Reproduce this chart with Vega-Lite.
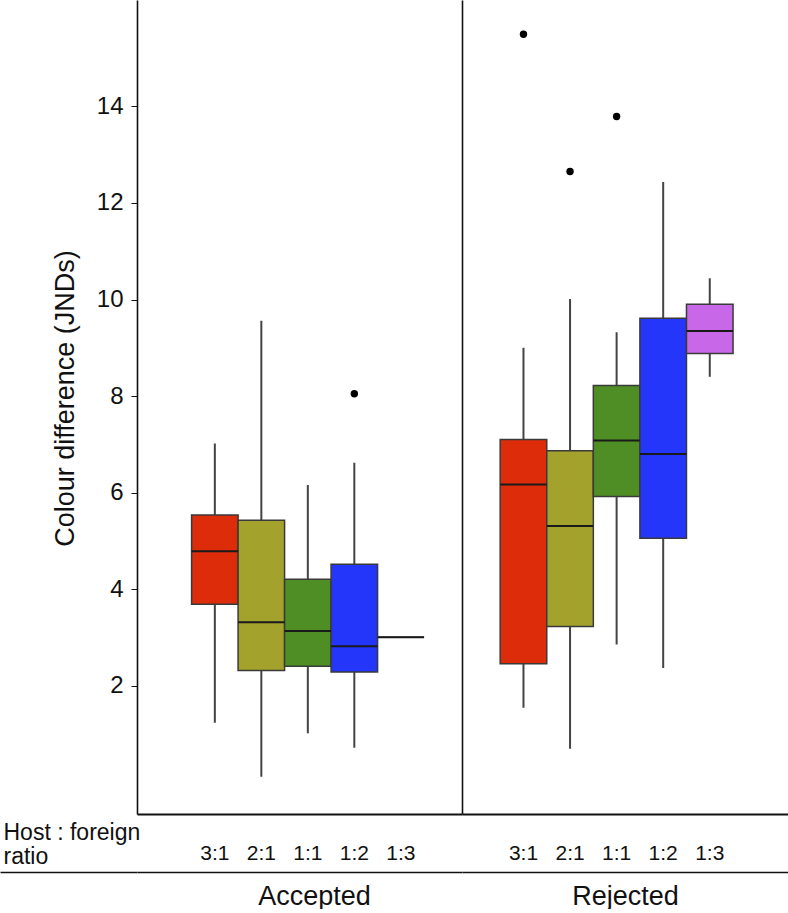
{
  "$schema": "https://vega.github.io/schema/vega-lite/v6.json",
  "autosize": {"type": "pad"},
  "padding": {"left": 0, "top": 0, "right": 0, "bottom": 0},
  "bounds": "flush",
  "spacing": 0,
  "background": "white",
  "config": {
    "view": {"stroke": null},
    "font": "Liberation Sans",
    "axis": {
      "grid": false,
      "domainColor": "#111",
      "domainWidth": 1.6,
      "tickColor": "#111",
      "labelColor": "#111",
      "titleColor": "#111",
      "labelFont": "Liberation Sans",
      "titleFont": "Liberation Sans",
      "titleFontWeight": "normal"
    }
  },
  "datasets": {
    "boxes": [
      {"decision": "Accepted", "ratio": "3:1", "lo": 1.24, "q1": 3.69, "med": 4.79, "q3": 5.54, "hi": 7.02},
      {"decision": "Accepted", "ratio": "2:1", "lo": 0.12, "q1": 2.32, "med": 3.32, "q3": 5.43, "hi": 9.56},
      {"decision": "Accepted", "ratio": "1:1", "lo": 1.02, "q1": 2.41, "med": 3.14, "q3": 4.21, "hi": 6.16},
      {"decision": "Accepted", "ratio": "1:2", "lo": 0.72, "q1": 2.29, "med": 2.82, "q3": 4.52, "hi": 6.62},
      {"decision": "Accepted", "ratio": "1:3", "lo": 3.01, "q1": 3.01, "med": 3.01, "q3": 3.01, "hi": 3.01},
      {"decision": "Rejected", "ratio": "3:1", "lo": 1.55, "q1": 2.46, "med": 6.17, "q3": 7.10, "hi": 9.00},
      {"decision": "Rejected", "ratio": "2:1", "lo": 0.70, "q1": 3.23, "med": 5.31, "q3": 6.87, "hi": 10.01},
      {"decision": "Rejected", "ratio": "1:1", "lo": 2.86, "q1": 5.92, "med": 7.08, "q3": 8.22, "hi": 9.32},
      {"decision": "Rejected", "ratio": "1:2", "lo": 2.37, "q1": 5.06, "med": 6.80, "q3": 9.61, "hi": 12.43},
      {"decision": "Rejected", "ratio": "1:3", "lo": 8.40, "q1": 8.88, "med": 9.35, "q3": 9.90, "hi": 10.44}
    ],
    "outliers": [
      {"decision": "Accepted", "ratio": "1:2", "value": 8.05},
      {"decision": "Rejected", "ratio": "3:1", "value": 15.49},
      {"decision": "Rejected", "ratio": "2:1", "value": 12.65},
      {"decision": "Rejected", "ratio": "1:1", "value": 13.79}
    ]
  },
  "hconcat": [
    {
      "width": 137,
      "height": 814,
      "data": {"name": "boxes"},
      "transform": [{"filter": "false"}],
      "mark": {"type": "tick"},
      "encoding": {
        "x": {
          "field": "ratio", "type": "nominal",
          "scale": {"domain": ["3:1"]},
          "axis": {"orient": "bottom", "offset": 58, "domain": true, "domainWidth": 1.6, "labels": false, "ticks": false, "title": null}
        }
      }
    },
    {
      "width": 325,
      "height": 814,
      "resolve": {"axis": {"x": "independent"}},
      "layer": [
        {
          "data": {"name": "boxes"},
          "transform": [{"filter": "datum.decision === 'Accepted'"}],
          "mark": {"type": "rule", "color": "#444", "strokeWidth": 2},
          "encoding": {
            "x": {
              "field": "ratio", "type": "nominal",
              "scale": {"domain": ["3:1", "2:1", "1:1", "1:2", "1:3"], "paddingInner": 0, "paddingOuter": 0.995, "align": 0.59},
              "axis": {
                "orient": "bottom", "ticks": false, "tickSize": 0, "labelPadding": 28, "labelFontSize": 21, "labelAngle": 0, "domainWidth": 2,
                "title": ["Host : foreign", "ratio"], "titleX": -134, "titleY": 7, "titleAlign": "left", "titleAnchor": "start",
                "titleBaseline": "top", "titleFontSize": 23, "titleLineHeight": 24
              }
            },
            "y": {
              "field": "lo", "type": "quantitative",
              "scale": {"domain": [-0.65, 16.2], "nice": false, "zero": false},
              "axis": {
                "values": [2, 4, 6, 8, 10, 12, 14], "tickSize": 6, "labelPadding": 8, "labelFontSize": 24,
                "title": "Colour difference (JNDs)", "titleFontSize": 27, "titlePadding": 17, "titleY": 398
              }
            },
            "y2": {"field": "hi"}
          }
        },
        {
          "data": {"name": "boxes"},
          "transform": [{"filter": "datum.decision === 'Accepted'"}],
          "mark": {"type": "bar", "stroke": "#3a3a3a", "strokeWidth": 1.5},
          "encoding": {
            "x": {
              "field": "ratio", "type": "nominal",
              "axis": {"orient": "bottom", "offset": 58, "domain": true, "domainWidth": 1.6, "labels": false, "ticks": false,
                       "title": "Accepted", "titleFontSize": 27, "titlePadding": 11, "titleX": 177}
            },
            "y": {"field": "q1", "type": "quantitative"},
            "y2": {"field": "q3"},
            "color": {
              "field": "ratio", "type": "nominal",
              "scale": {"domain": ["3:1", "2:1", "1:1", "1:2", "1:3"], "range": ["#dc2c0a", "#a3a22c", "#4f8e25", "#2336fa", "#c867e8"]},
              "legend": null
            }
          }
        },
        {
          "data": {"name": "boxes"},
          "transform": [{"filter": "datum.decision === 'Accepted'"}],
          "mark": {"type": "tick", "color": "#1a1a1a", "thickness": 2, "size": 46.5, "opacity": 1},
          "encoding": {
            "x": {"field": "ratio", "type": "nominal", "axis": null},
            "y": {"field": "med", "type": "quantitative"}
          }
        },
        {
          "data": {"name": "outliers"},
          "transform": [{"filter": "datum.decision === 'Accepted'"}],
          "mark": {"type": "circle", "color": "#000", "size": 55, "opacity": 1},
          "encoding": {
            "x": {"field": "ratio", "type": "nominal", "axis": null},
            "y": {"field": "value", "type": "quantitative"}
          }
        }
      ]
    },
    {
      "width": 326,
      "height": 814,
      "resolve": {"axis": {"x": "independent"}},
      "layer": [
        {
          "data": {"name": "boxes"},
          "transform": [{"filter": "datum.decision === 'Rejected'"}],
          "mark": {"type": "rule", "color": "#444", "strokeWidth": 2},
          "encoding": {
            "x": {
              "field": "ratio", "type": "nominal",
              "scale": {"domain": ["3:1", "2:1", "1:1", "1:2", "1:3"], "paddingInner": 0, "paddingOuter": 1.005, "align": 0.41},
              "axis": {
                "orient": "bottom", "ticks": false, "tickSize": 0, "labelPadding": 28, "labelFontSize": 21, "labelAngle": 0, "domainWidth": 2,
                "title": null
              }
            },
            "y": {
              "field": "lo", "type": "quantitative",
              "scale": {"domain": [-0.65, 16.2], "nice": false, "zero": false},
              "axis": {"labels": false, "ticks": false, "title": null, "domain": true, "domainWidth": 1.6}
            },
            "y2": {"field": "hi"}
          }
        },
        {
          "data": {"name": "boxes"},
          "transform": [{"filter": "datum.decision === 'Rejected'"}],
          "mark": {"type": "bar", "stroke": "#3a3a3a", "strokeWidth": 1.5},
          "encoding": {
            "x": {
              "field": "ratio", "type": "nominal",
              "axis": {"orient": "bottom", "offset": 58, "domain": true, "domainWidth": 1.6, "labels": false, "ticks": false,
                       "title": "Rejected", "titleFontSize": 27, "titlePadding": 11}
            },
            "y": {"field": "q1", "type": "quantitative"},
            "y2": {"field": "q3"},
            "color": {
              "field": "ratio", "type": "nominal",
              "scale": {"domain": ["3:1", "2:1", "1:1", "1:2", "1:3"], "range": ["#dc2c0a", "#a3a22c", "#4f8e25", "#2336fa", "#c867e8"]},
              "legend": null
            }
          }
        },
        {
          "data": {"name": "boxes"},
          "transform": [{"filter": "datum.decision === 'Rejected'"}],
          "mark": {"type": "tick", "color": "#1a1a1a", "thickness": 2, "size": 46.5, "opacity": 1},
          "encoding": {
            "x": {"field": "ratio", "type": "nominal", "axis": null},
            "y": {"field": "med", "type": "quantitative"}
          }
        },
        {
          "data": {"name": "outliers"},
          "transform": [{"filter": "datum.decision === 'Rejected'"}],
          "mark": {"type": "circle", "color": "#000", "size": 55, "opacity": 1},
          "encoding": {
            "x": {"field": "ratio", "type": "nominal", "axis": null},
            "y": {"field": "value", "type": "quantitative"}
          }
        }
      ]
    }
  ]
}
